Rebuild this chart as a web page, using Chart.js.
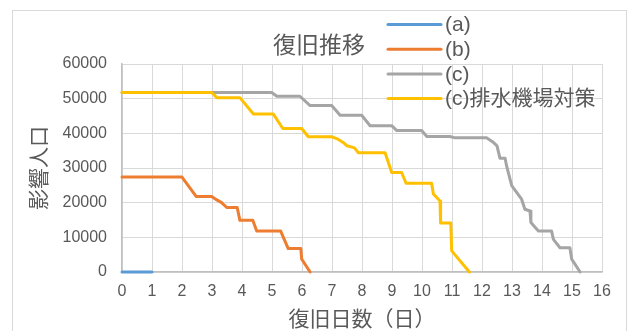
<html>
<head>
<script src="https://cdn.jsdelivr.net/npm/chart.js"></script>
<style>
body { margin: 0; background: #fff; }
#frame { position: absolute; left: 12px; top: 10px; width: 613px; height: 340px; border: 1px solid #d9d9d9; }
#wrap { position: absolute; left: 0; top: 0; width: 630px; height: 331px; }
</style>
</head>
<body>
<div id="frame"></div>
<div id="wrap"><canvas id="myChart" width="630" height="331"></canvas></div>

<script>
// 復旧日数 (x) と 影響人口 (y)
aX = [0, 1]
aY = [0, 0]

bX = [0, 2, 2.47, 2.99, 3.16, 3.32, 3.49, 3.84, 3.93, 4.36, 4.49, 5.29, 5.54, 5.96, 5.99, 6.27]
bY = [27400, 27400, 21800, 21800, 20800, 20000, 18600, 18600, 14900, 14900, 11800, 11800, 6750, 6750, 3700, 0]

cX = [0, 4.99, 5.16, 5.93, 6.27, 6.99, 7.27, 7.99, 8.27, 8.99, 9.16, 9.99, 10.16, 10.93, 11.1, 12.15, 12.35, 12.5, 12.6, 12.77, 12.82, 12.99, 13.32, 13.43, 13.6, 13.63, 13.88, 14.32, 14.38, 14.6, 14.93, 14.99, 15.27]
cY = [51800, 51800, 50700, 50700, 48000, 48000, 45200, 45200, 42200, 42200, 40800, 40800, 39100, 39100, 38700, 38700, 37600, 36400, 32800, 32800, 30600, 24900, 21000, 18100, 17600, 14300, 11800, 11800, 9400, 7000, 7000, 3700, 0]

dX = [0, 2.99, 3.16, 3.93, 4.38, 5.04, 5.36, 5.99, 6.21, 7.0, 7.2, 7.4, 7.5, 7.75, 7.88, 8.77, 8.99, 9.32, 9.47, 10.32, 10.38, 10.6, 10.62, 10.96, 10.99, 11.58]
dY = [51800, 51800, 50300, 50300, 45600, 45600, 41400, 41400, 39000, 39000, 38300, 37200, 36400, 35800, 34400, 34400, 28700, 28700, 25600, 25600, 22500, 20500, 14100, 14100, 6100, 0]

seriesNames = ['(a)', '(b)', '(c)', '(c)排水機場対策']
seriesColors = ['#5B9BD5', '#ED7D31', '#A5A5A5', '#FFC000']
titleText = '復旧推移'
xTitle = '復旧日数（日）'
yTitle = '影響人口'

fam = "'Liberation Sans', 'Noto Sans CJK JP', sans-serif"
txt = '#595959'

function pts(xs, ys) {
  return xs.map((x, i) => ({ x: x, y: ys[i] }))
}

function ds(i, xs, ys, ord) {
  return {
    label: seriesNames[i],
    data: pts(xs, ys),
    borderColor: seriesColors[i],
    backgroundColor: seriesColors[i],
    borderWidth: 3,
    pointRadius: 0,
    borderJoinStyle: 'round',
    borderCapStyle: 'round',
    showLine: true,
    clip: false,
    order: ord
  }
}

// title + legend drawn at the Excel positions
const overlay = {
  id: 'overlay',
  afterDraw(chart) {
    const ctx = chart.ctx
    ctx.save()
    ctx.fillStyle = txt
    ctx.textBaseline = 'middle'
    ctx.textAlign = 'center'
    ctx.font = '23px ' + fam
    ctx.fillText(titleText, 319, 47)

    ctx.textAlign = 'left'
    ctx.font = '21px ' + fam
    ctx.lineWidth = 3
    ctx.lineCap = 'round'
    for (let i = 0; i < seriesNames.length; i++) {
      const y = 24.5 + i * 24.7
      ctx.strokeStyle = seriesColors[i]
      ctx.beginPath()
      ctx.moveTo(388, y)
      ctx.lineTo(441, y)
      ctx.stroke()
      ctx.fillText(seriesNames[i], 445, y + 1)
    }
    ctx.restore()
  }
}

new Chart(document.getElementById('myChart'), {
  type: 'scatter',
  data: {
    datasets: [
      ds(0, aX, aY, 4),
      ds(1, bX, bY, 3),
      ds(2, cX, cY, 2),
      ds(3, dX, dY, 1)
    ]
  },
  options: {
    responsive: false,
    animation: false,
    layout: { padding: { left: 0, top: 64, right: 28, bottom: 0 } },
    plugins: {
      legend: { display: false },
      title: { display: false },
      tooltip: { enabled: false }
    },
    scales: {
      x: {
        type: 'linear',
        min: 0, max: 16,
        afterFit: (s) => { s.height = 59 },
        grid: { color: '#d9d9d9', drawTicks: false },
        border: { color: '#bfbfbf', width: 1.5 },
        ticks: { stepSize: 1, padding: 10, color: txt, font: { family: fam, size: 16 } },
        title: { display: true, text: xTitle, color: txt, font: { family: fam, size: 21, lineHeight: 1 }, padding: { top: 0, bottom: 0 } }
      },
      y: {
        min: 0, max: 60000,
        afterFit: (s) => { s.width = 122 },
        grid: { color: '#d9d9d9', drawTicks: false },
        border: { color: '#bfbfbf', width: 1.5 },
        ticks: { stepSize: 10000, padding: 15, color: txt, font: { family: fam, size: 16 }, callback: (v) => String(v) },
        title: { display: true, text: yTitle, color: txt, font: { family: fam, size: 21, lineHeight: 1 }, padding: { top: 30, bottom: 0 } }
      }
    }
  },
  plugins: [overlay]
})
</script>
</body>
</html>
